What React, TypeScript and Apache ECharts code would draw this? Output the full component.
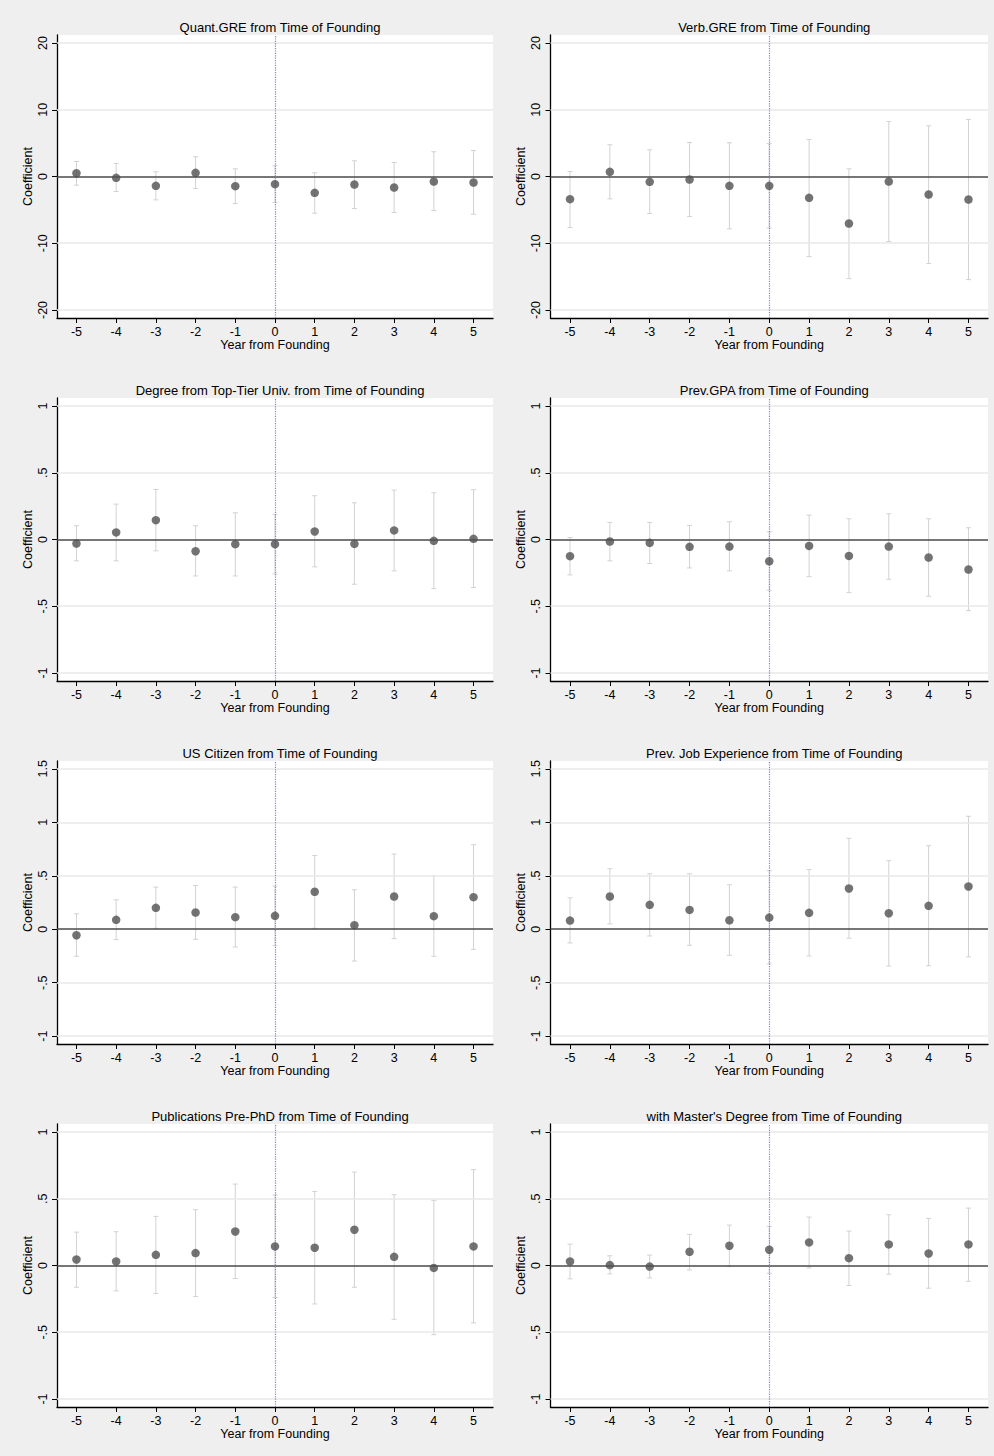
import React, { useEffect, useRef } from "react";
import * as echarts from "echarts";

const years = [-5, -4, -3, -2, -1, 0, 1, 2, 3, 4, 5];

const quantEst = [0.5, -0.2, -1.4, 0.55, -1.45, -1.15, -2.45, -1.2, -1.65, -0.75, -0.9];
const quantHi = [2.25, 1.95, 0.7, 2.95, 1.15, 1.6, 0.55, 2.35, 2.1, 3.7, 3.9];
const quantLo = [-1.3, -2.25, -3.5, -1.8, -4.05, -3.9, -5.5, -4.8, -5.4, -5.1, -5.65];

const verbEst = [-3.4, 0.7, -0.8, -0.45, -1.4, -1.4, -3.2, -7.05, -0.75, -2.7, -3.45];
const verbHi = [0.75, 4.75, 4.0, 5.1, 5.05, 4.95, 5.55, 1.15, 8.25, 7.6, 8.55];
const verbLo = [-7.65, -3.35, -5.55, -6.0, -7.85, -7.7, -12.0, -15.3, -9.75, -13.05, -15.45];

const degEst = [-0.03, 0.053, 0.145, -0.088, -0.035, -0.035, 0.06, -0.033, 0.068, -0.01, 0.005];
const degHi = [0.103, 0.265, 0.375, 0.103, 0.2, 0.188, 0.328, 0.275, 0.37, 0.35, 0.373];
const degLo = [-0.16, -0.16, -0.085, -0.273, -0.273, -0.258, -0.205, -0.335, -0.235, -0.368, -0.36];

const gpaEst = [-0.125, -0.015, -0.025, -0.055, -0.053, -0.163, -0.048, -0.123, -0.053, -0.135, -0.225];
const gpaHi = [0.015, 0.128, 0.128, 0.105, 0.133, 0.058, 0.183, 0.155, 0.193, 0.155, 0.088];
const gpaLo = [-0.265, -0.16, -0.18, -0.213, -0.235, -0.38, -0.278, -0.398, -0.298, -0.425, -0.533];

const usEst = [-0.056, 0.088, 0.2, 0.156, 0.113, 0.125, 0.35, 0.038, 0.306, 0.122, 0.3];
const usHi = [0.144, 0.275, 0.394, 0.409, 0.394, 0.403, 0.69, 0.369, 0.703, 0.5, 0.79];
const usLo = [-0.253, -0.097, 0.009, -0.094, -0.166, -0.153, 0.009, -0.297, -0.088, -0.253, -0.188];

const jobEst = [0.081, 0.306, 0.228, 0.181, 0.084, 0.109, 0.153, 0.381, 0.15, 0.219, 0.4];
const jobHi = [0.294, 0.566, 0.519, 0.519, 0.416, 0.547, 0.559, 0.85, 0.641, 0.781, 1.056];
const jobLo = [-0.128, 0.05, -0.063, -0.15, -0.244, -0.325, -0.25, -0.084, -0.344, -0.341, -0.259];

const pubEst = [0.045, 0.03, 0.08, 0.093, 0.255, 0.143, 0.133, 0.268, 0.065, -0.018, 0.143];
const pubHi = [0.25, 0.253, 0.368, 0.418, 0.61, 0.528, 0.555, 0.7, 0.53, 0.488, 0.718];
const pubLo = [-0.163, -0.19, -0.21, -0.233, -0.098, -0.24, -0.288, -0.163, -0.403, -0.518, -0.43];

const mastEst = [0.03, 0.003, -0.008, 0.103, 0.148, 0.118, 0.173, 0.055, 0.158, 0.09, 0.158];
const mastHi = [0.16, 0.073, 0.078, 0.233, 0.303, 0.293, 0.363, 0.258, 0.38, 0.353, 0.43];
const mastLo = [-0.1, -0.063, -0.093, -0.033, -0.008, -0.058, -0.018, -0.15, -0.065, -0.17, -0.118];

const ticksGRE = [-20, -10, 0, 10, 20];
const ticksUnit = [-1, -0.5, 0, 0.5, 1];
const ticksWide = [-1, -0.5, 0, 0.5, 1, 1.5];

const titles = [
  "Quant.GRE from Time of Founding",
  "Verb.GRE from Time of Founding",
  "Degree from Top-Tier Univ. from Time of Founding",
  "Prev.GPA from Time of Founding",
  "US Citizen from Time of Founding",
  "Prev. Job Experience from Time of Founding",
  "Publications Pre-PhD from Time of Founding",
  "with Master's Degree from Time of Founding",
];

const panels = [
  { title: titles[0], est: quantEst, lo: quantLo, hi: quantHi, ticks: ticksGRE, min: -21.2, max: 21.2 },
  { title: titles[1], est: verbEst, lo: verbLo, hi: verbHi, ticks: ticksGRE, min: -21.2, max: 21.2 },
  { title: titles[2], est: degEst, lo: degLo, hi: degHi, ticks: ticksUnit, min: -1.06, max: 1.06 },
  { title: titles[3], est: gpaEst, lo: gpaLo, hi: gpaHi, ticks: ticksUnit, min: -1.06, max: 1.06 },
  { title: titles[4], est: usEst, lo: usLo, hi: usHi, ticks: ticksWide, min: -1.073, max: 1.573 },
  { title: titles[5], est: jobEst, lo: jobLo, hi: jobHi, ticks: ticksWide, min: -1.073, max: 1.573 },
  { title: titles[6], est: pubEst, lo: pubLo, hi: pubHi, ticks: ticksUnit, min: -1.06, max: 1.06 },
  { title: titles[7], est: mastEst, lo: mastLo, hi: mastHi, ticks: ticksUnit, min: -1.06, max: 1.06 },
];

const FONT = "'Liberation Sans', Arial, Helvetica, sans-serif";

function fmtY(v: number): string {
  if (Math.abs(v) < 1e-9) return "0";
  const s = String(Math.round(v * 1000) / 1000);
  return s.replace(/^(-?)0\./, "$1.");
}

export default function App() {
  const ref = useRef<HTMLDivElement>(null);

  useEffect(() => {
    if (!ref.current) return;
    const chart = echarts.init(ref.current, null, { renderer: "svg" });

    const grids: any[] = [];
    const xAxes: any[] = [];
    const yAxes: any[] = [];
    const series: any[] = [];
    const titleOpts: any[] = [];

    panels.forEach((p, i) => {
      const col = i % 2;
      const row = Math.floor(i / 2);
      const left = col === 0 ? 57 : 550.5;
      const width = col === 0 ? 436 : 437.5;
      const top = 35 + row * 363;
      const height = 283;
      grids.push({
        left,
        top,
        width,
        height,
        show: true,
        backgroundColor: "#ffffff",
        borderWidth: 0,
        containLabel: false,
        outerBoundsMode: "none",
      });
      titleOpts.push({
        text: p.title,
        left: left + width / 2,
        top: top - 19,
        textAlign: "center",
        textStyle: { fontFamily: FONT, fontSize: 13, fontWeight: "normal", color: "#000" },
      });
      xAxes.push({
        type: "value",
        gridIndex: i,
        min: -5.49,
        max: 5.49,
        name: "Year from Founding",
        nameLocation: "middle",
        nameGap: 20,
        nameMoveOverlap: false,
        nameTextStyle: { fontFamily: FONT, fontSize: 12.5, color: "#000" },
        axisLine: { show: true, onZero: false, lineStyle: { color: "#000", width: 1.3 } },
        axisTick: { show: true, length: 5, customValues: years, lineStyle: { color: "#000", width: 1 } },
        axisLabel: {
          show: true,
          customValues: years,
          margin: 7,
          fontFamily: FONT,
          fontSize: 12.5,
          color: "#000",
          formatter: (v: number) => String(v),
        },
        splitLine: { show: false },
      });
      yAxes.push({
        type: "value",
        gridIndex: i,
        min: p.min,
        max: p.max,
        name: "Coefficient",
        nameLocation: "middle",
        nameRotate: 90,
        nameGap: 23,
        nameMoveOverlap: false,
        nameTextStyle: { fontFamily: FONT, fontSize: 12.5, color: "#000" },
        axisLine: { show: true, onZero: false, lineStyle: { color: "#000", width: 1.3 } },
        axisTick: { show: true, length: 5, customValues: p.ticks, lineStyle: { color: "#000", width: 1 } },
        axisLabel: {
          show: true,
          customValues: p.ticks,
          rotate: 90,
          margin: 8,
          fontFamily: FONT,
          fontSize: 12.5,
          color: "#000",
          formatter: (v: number) => fmtY(v),
        },
        splitLine: { show: false },
      });

      const gridLines = p.ticks
        .filter((t) => t !== 0)
        .map((t) => ({ yAxis: t, lineStyle: { color: "#e8e8e8", width: 1.5, type: "solid" } }));

      series.push({
        type: "custom",
        xAxisIndex: i,
        yAxisIndex: i,
        z: 2,
        silent: true,
        data: years.map((y, k) => [y, p.lo[k], p.hi[k]]),
        encode: { x: 0, y: [1, 2] },
        renderItem: (_params: any, api: any) => {
          const x = api.value(0);
          const lo = api.value(1);
          const hi = api.value(2);
          const a = api.coord([x, hi]);
          const b = api.coord([x, lo]);
          const w = 2.5;
          const style = { stroke: "#d2d2d2", lineWidth: 1 };
          return {
            type: "group",
            children: [
              { type: "line", shape: { x1: a[0], y1: a[1], x2: b[0], y2: b[1] }, style },
              { type: "line", shape: { x1: a[0] - w, y1: a[1], x2: a[0] + w, y2: a[1] }, style },
              { type: "line", shape: { x1: b[0] - w, y1: b[1], x2: b[0] + w, y2: b[1] }, style },
            ],
          };
        },
        markLine: {
          silent: true,
          symbol: "none",
          label: { show: false },
          animation: false,
          data: [
            ...gridLines,
            { yAxis: 0, lineStyle: { color: "#4a4a4a", width: 1.5, type: "solid" } },
          ],
        },
      });
      series.push({
        type: "scatter",
        xAxisIndex: i,
        yAxisIndex: i,
        z: 10,
        silent: true,
        symbol: "circle",
        symbolSize: 8.5,
        itemStyle: { color: "#505050" },
        data: years.map((y, k) => [y, p.est[k]]),
        markLine: {
          silent: true,
          symbol: "none",
          label: { show: false },
          animation: false,
          lineStyle: { color: "#7d7dff", width: 1.2, type: "dotted", opacity: 1 },
          data: [{ xAxis: 0 }],
        },
      });
    });

    chart.setOption({
      animation: false,
      backgroundColor: "#efefef",
      title: titleOpts,
      grid: grids,
      xAxis: xAxes,
      yAxis: yAxes,
      series,
      tooltip: { show: false },
    });

    return () => {
      chart.dispose();
    };
  }, []);

  return (
    <div
      ref={ref}
      style={{ position: "absolute", left: 0, top: 0, width: 994, height: 1456 }}
    />
  );
}
